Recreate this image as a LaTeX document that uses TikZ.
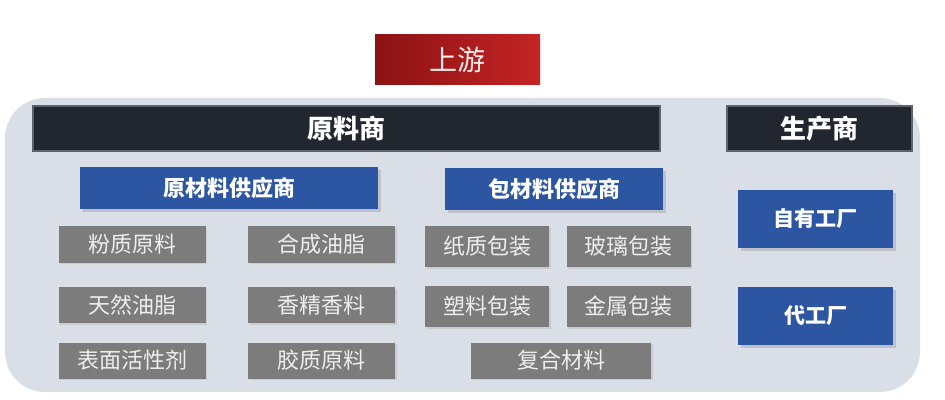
\documentclass[tikz,border=0pt]{standalone}
\usepackage{fontspec}
\newfontfamily\cjk{Noto Sans CJK SC}
\usetikzlibrary{positioning, shadows}
\definecolor{upcolor}{RGB}{196, 36, 36}
\definecolor{updark}{RGB}{140, 18, 20}
\definecolor{barcolor}{RGB}{34, 38, 46}
\definecolor{baredge}{RGB}{92, 98, 110}
\definecolor{supcolor}{RGB}{44, 86, 162}
\definecolor{itemcolor}{RGB}{124, 124, 124}
\definecolor{itemtext}{RGB}{238, 238, 238}
\definecolor{panelcolor}{RGB}{218, 222, 231}

\begin{document}
\begin{tikzpicture}[
    x=0.5pt, y=-0.5pt,
    panel/.style={rectangle, fill=panelcolor, rounded corners=20pt, inner sep=0pt},
    upbox/.style={rectangle, left color=updark, right color=upcolor, minimum width=82.5pt, minimum height=25pt, text=red!8, font=\cjk\fontsize{14}{16}\selectfont, inner sep=0pt},
    bar/.style={rectangle, fill=barcolor, draw=baredge, line width=1.2pt, minimum height=22.5pt, text=white, font=\cjk\bfseries\fontsize{13}{15}\selectfont, inner sep=0pt},
    supbox/.style={rectangle, fill=supcolor, minimum height=21pt, text=white, font=\cjk\bfseries\fontsize{11}{13}\selectfont, inner sep=0pt, drop shadow={shadow xshift=1.5pt, shadow yshift=-1.5pt, opacity=0.3}},
    factory/.style={supbox, minimum width=77.5pt, minimum height=29pt, font=\cjk\bfseries\fontsize{10.5}{12}\selectfont},
    item/.style={rectangle, fill=itemcolor, minimum width=73.5pt, minimum height=18pt, text=itemtext, font=\cjk\fontsize{11}{13}\selectfont, inner sep=0pt, drop shadow={shadow xshift=0.8pt, shadow yshift=-0.8pt, opacity=0.2}},
    packitem/.style={item, minimum width=62pt, minimum height=20.5pt},
]
\useasboundingbox (0,0) rectangle (945,400);

% ============ 背景 ============
\node[panel, minimum width=457.5pt, minimum height=147pt] (panel) at (462.5,245) {};

% ============ 上游 ============
\node[upbox] (up) at (457.5,60) {上游};

% ============ 标题栏 ============
\node[bar, minimum width=313.5pt] (raw) at (346.5,128.5) {原料商};
\node[bar, minimum width=92.5pt] (maker) at (819.5,128.5) {生产商};

% ============ 供应商 ============
\node[supbox, minimum width=149pt] (rawsup) at (229,188.5) {原材料供应商};
\node[supbox, minimum width=109pt] (packsup) at (554,189) {包材料供应商};

% ============ 原材料 (两列) ============
\node[item] (powder) at (132,244.5) {粉质原料};
\node[item] (natoil) at (132,305) {天然油脂};
\node[item] (surf) at (132,360.5) {表面活性剂};
\node[item, right=21pt of powder] (synoil) {合成油脂};
\node[item, right=21pt of natoil] (fragr) {香精香料};
\node[item, right=21pt of surf] (gum) {胶质原料};

% ============ 包材料 ============
\node[packitem] (paper) at (487,246.5) {纸质包装};
\node[packitem] (plastic) at (487,306.5) {塑料包装};
\node[packitem, right=8.5pt of paper] (glass) {玻璃包装};
\node[packitem, right=8.5pt of plastic] (metal) {金属包装};
\node[item, minimum width=90pt] (compos) at (561,360.5) {复合材料};

% ============ 工厂 ============
\node[factory] (own) at (815.5,219) {自有工厂};
\node[factory] (oem) at (815.5,315.5) {代工厂};

\end{tikzpicture}
\end{document}
